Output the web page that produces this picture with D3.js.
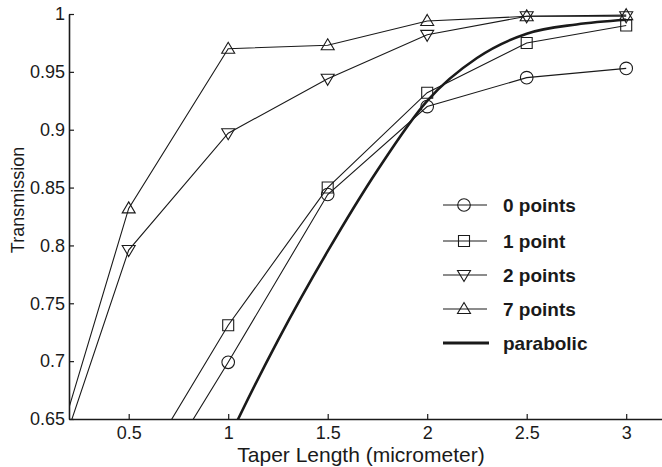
<!DOCTYPE html>
<html>
<head>
<meta charset="utf-8">
<script src="https://d3js.org/d3.v7.min.js"></script>
<style>
  body { margin: 0; background: #fff; }
  svg { display: block; font-family: "Liberation Sans", Arial, sans-serif; }
</style>
</head>
<body>
<svg id="chart" width="662" height="467"></svg>
<script>
// data
const lengths = [0, 0.5, 1, 1.5, 2, 2.5, 3];
const points0 = [null, 0.559, 0.699, 0.844, 0.920, 0.945, 0.953];
const points1 = [null, 0.588, 0.731, 0.850, 0.932, 0.975, 0.990];
const points2 = [0.540, 0.796, 0.897, 0.944, 0.982, 0.998, 0.998];
const points7 = [0.545, 0.832, 0.970, 0.973, 0.994, 0.998, 0.999];

const paraX = [1.0, 1.05, 1.25, 1.5, 1.75, 2, 2.25, 2.5, 2.75, 3];
const paraY = [0.632, 0.65, 0.718, 0.795, 0.865, 0.925, 0.962, 0.983, 0.991, 0.995];

const xTicks = [0.5, 1, 1.5, 2, 2.5, 3];
const yTicks = [0.65, 0.7, 0.75, 0.8, 0.85, 0.9, 0.95, 1];

const seriesNames = ["0 points", "1 point", "2 points", "7 points"];
const seriesMarks = ["circle", "square", "down", "up"];
const seriesVals = [points0, points1, points2, points7];

const ink = "#1a1a1a";
const svg = d3.select("#chart");

const x = d3.scaleLinear().domain([0.2, 3.2]).range([69, 666]);
const y = d3.scaleLinear().domain([0.65, 1]).range([419, 14]);

// clip for the plot area (open at the top so markers at 1 aren't cut)
svg.append("clipPath").attr("id", "plot")
  .append("rect").attr("x", 69).attr("y", 0).attr("width", 600).attr("height", 419);

// marker shapes
function markPath(kind) {
  if (kind === "circle") return d3.arc()({innerRadius: 0, outerRadius: 6.3, startAngle: 0, endAngle: 2 * Math.PI});
  if (kind === "square") return "M-5.5,-5.5H5.5V5.5H-5.5Z";
  if (kind === "up") return "M0,-6.5L6.5,4.5L-6.5,4.5Z";
  if (kind === "down") return "M0,6.5L6.5,-4.5L-6.5,-4.5Z";
}

const plot = svg.append("g").attr("clip-path", "url(#plot)");

const line = d3.line()
  .defined(d => d[1] != null)
  .x(d => x(d[0])).y(d => y(d[1]));

seriesVals.forEach((vals, i) => {
  const pts = lengths.map((l, j) => [l, vals[j]]);
  plot.append("path")
    .attr("d", line(pts))
    .attr("fill", "none").attr("stroke", ink).attr("stroke-width", 1.1);
  plot.selectAll(null)
    .data(pts.filter(p => p[1] != null))
    .enter().append("path")
    .attr("transform", p => `translate(${x(p[0])},${y(p[1])})`)
    .attr("d", markPath(seriesMarks[i]))
    .attr("fill", "none").attr("stroke", ink).attr("stroke-width", 1.1);
});

// parabolic taper curve
plot.append("path")
  .attr("d", d3.line().curve(d3.curveMonotoneX)
    .x(d => x(d[0])).y(d => y(d[1]))(paraX.map((v, i) => [v, paraY[i]])))
  .attr("fill", "none").attr("stroke", ink).attr("stroke-width", 2.6);

// axes, ticks inside
const fmt = d => String(+d.toFixed(2));

const xAxis = svg.append("g").attr("transform", "translate(0,419)")
  .call(d3.axisBottom(x).tickValues(xTicks).tickFormat(fmt).tickSizeInner(-5).tickSizeOuter(0).tickPadding(7));
const yAxis = svg.append("g").attr("transform", "translate(69,0)")
  .call(d3.axisLeft(y).tickValues(yTicks).tickFormat(fmt).tickSizeInner(-5).tickSizeOuter(0).tickPadding(4));

[xAxis, yAxis].forEach(a => {
  a.select(".domain").attr("stroke", ink).attr("stroke-width", 1.6);
  a.selectAll(".tick line").attr("stroke", ink).attr("stroke-width", 1.2);
  a.selectAll("text").attr("fill", ink).style("font-size", "18px");
});

// axis titles
svg.append("text")
  .attr("x", 361).attr("y", 462)
  .attr("text-anchor", "middle").attr("fill", ink)
  .style("font-size", "21px")
  .text("Taper Length (micrometer)");

svg.append("text")
  .attr("transform", "translate(24,200) rotate(-90)")
  .attr("text-anchor", "middle").attr("fill", ink)
  .style("font-size", "18px")
  .text("Transmission");

// legend
const legendRows = [205, 241, 275, 309, 343];
const legend = svg.append("g");
seriesNames.forEach((name, i) => {
  const ry = legendRows[i];
  legend.append("line").attr("x1", 443).attr("x2", 487).attr("y1", ry).attr("y2", ry)
    .attr("stroke", ink).attr("stroke-width", 1.1);
  legend.append("path").attr("transform", `translate(464,${ry})`)
    .attr("d", markPath(seriesMarks[i]))
    .attr("fill", "none").attr("stroke", ink).attr("stroke-width", 1.1);
  legend.append("text").attr("x", 503).attr("y", ry).attr("dy", "0.35em")
    .attr("fill", ink).style("font-size", "19px").style("font-weight", "bold")
    .text(name);
});
legend.append("line").attr("x1", 443).attr("x2", 489).attr("y1", legendRows[4]).attr("y2", legendRows[4])
  .attr("stroke", ink).attr("stroke-width", 3);
legend.append("text").attr("x", 503).attr("y", legendRows[4]).attr("dy", "0.35em")
  .attr("fill", ink).style("font-size", "19px").style("font-weight", "bold")
  .text("parabolic");
</script>
</body>
</html>
